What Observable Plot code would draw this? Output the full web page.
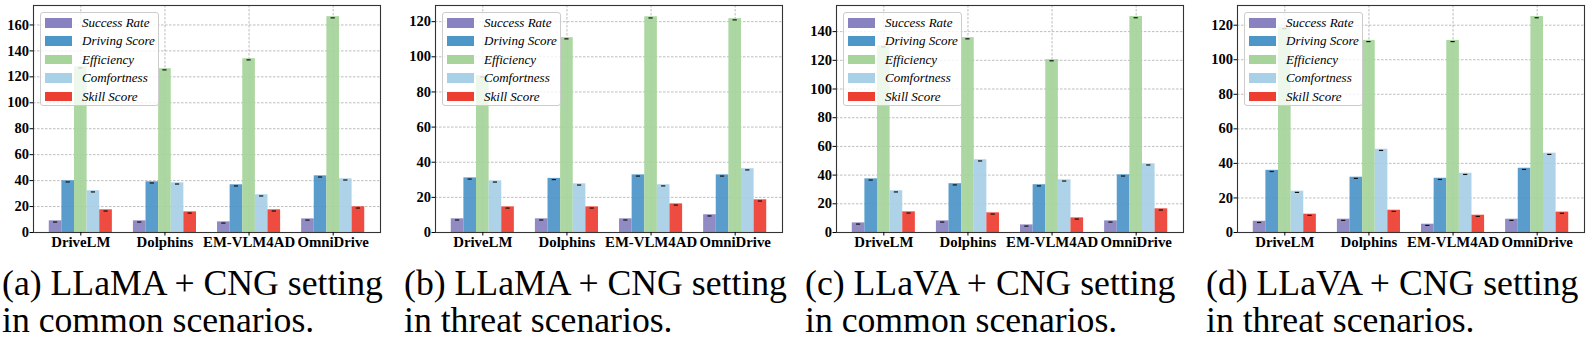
<!DOCTYPE html>
<html><head><meta charset="utf-8">
<script src="https://cdn.jsdelivr.net/npm/d3@7"></script>
<script src="https://cdn.jsdelivr.net/npm/@observablehq/plot@0.6"></script>
<style>
body{margin:0;background:#fff;width:1590px;height:352px;overflow:hidden;position:relative;font-family:"Liberation Serif","Times New Roman",serif;}
.panel{position:absolute;top:0;}
.legend{position:absolute;top:12px;width:119px;height:94px;background:rgba(255,255,255,0.8);border:1px solid #cccccc;border-radius:3px;box-sizing:border-box;}
.legend .row{position:absolute;left:0;height:18px;}
.legend .sw{position:absolute;left:4px;width:27px;height:9.5px;}
.legend .lb{position:absolute;left:41px;font-style:italic;font-size:13px;white-space:nowrap;color:#000;line-height:13px;}
.caption{position:absolute;top:265px;font-size:35.7px;line-height:37px;white-space:nowrap;color:#000;}
</style></head><body>
<script>
const categories = ["DriveLM", "Dolphins", "EM-VLM4AD", "OmniDrive"];
const seriesNames = ["Success Rate", "Driving Score", "Efficiency", "Comfortness", "Skill Score"];
const seriesColors = ["#8982c0", "#4d96c8", "#a6d49b", "#a8d0e6", "#ed3e32"];

// rows = series (Success Rate, Driving Score, Efficiency, Comfortness, Skill Score), columns = categories
const valuesA = [[9.0, 9.0, 8.2, 10.5], [39.9, 39.1, 36.8, 43.7], [127.8, 126.3, 134.0, 166.4], [32.2, 38.3, 29.1, 41.4], [17.5, 15.9, 17.5, 19.8]];
const valuesB = [[7.8, 7.8, 7.8, 10.1], [31.1, 30.8, 32.8, 32.8], [89.2, 110.9, 122.8, 121.7], [29.4, 27.7, 27.2, 36.3], [14.6, 14.6, 16.3, 18.6]];
const valuesC = [[6.7, 8.1, 5.3, 8.1], [37.4, 34.0, 33.3, 40.2], [130.2, 135.8, 120.5, 150.5], [29.1, 50.7, 36.7, 47.9], [14.4, 13.7, 10.2, 16.5]];
const valuesD = [[6.5, 7.7, 4.8, 7.7], [36.0, 32.0, 31.4, 37.2], [118.7, 111.2, 111.2, 125.0], [23.9, 48.2, 34.3, 45.9], [10.6, 12.9, 10.0, 11.8]];

const yTicksA = [0, 20, 40, 60, 80, 100, 120, 140, 160];
const yTicksB = [0, 20, 40, 60, 80, 100, 120];
const yTicksC = [0, 20, 40, 60, 80, 100, 120, 140];
const yTicksD = [0, 20, 40, 60, 80, 100, 120];
const yMaxes = [175, 129.2, 158.2, 131.4];

const captionsLine1 = ["(a) LLaMA + CNG setting", "(b) LLaMA + CNG setting", "(c) LLaVA + CNG setting", "(d) LLaVA + CNG setting"];
const captionsLine2 = ["in common scenarios.", "in threat scenarios.", "in common scenarios.", "in threat scenarios."];

const allValues = [valuesA, valuesB, valuesC, valuesD];
const allTicks = [yTicksA, yTicksB, yTicksC, yTicksD];

const barStep = 0.15;
const panelLefts = [0, 402, 803, 1204];
const catIdx = categories.map((_, i) => i);

function makePanel(values, yMax, yTicks) {
  const data = [];
  values.forEach((row, s) => row.forEach((v, c) => data.push({
    cat: c, series: seriesNames[s], value: v, pos: c + (s - 2) * barStep
  })));
  return Plot.plot({
    width: 385, height: 252,
    marginLeft: 33, marginRight: 5, marginTop: 5, marginBottom: 20,
    style: {fontFamily: "'Liberation Serif', 'Times New Roman', serif", color: "#000", background: "transparent", overflow: "visible"},
    x: {domain: [-0.5625, 3.5625], axis: null},
    y: {domain: [0, yMax], axis: null},
    color: {domain: seriesNames, range: seriesColors},
    marks: [
      Plot.gridY(yTicks, {stroke: "#b5b5b5", strokeOpacity: 1, strokeDasharray: "2.5,1.5", strokeWidth: 0.9}),
      Plot.gridX(catIdx, {stroke: "#b5b5b5", strokeOpacity: 1, strokeDasharray: "2.5,1.5", strokeWidth: 0.9}),
      Plot.rect(data, {
        x1: d => d.pos - barStep / 2, x2: d => d.pos + barStep / 2,
        y1: 0, y2: "value", fill: "series", fillOpacity: 0.93
      }),
      Plot.ruleY(data, {x1: d => d.pos - 0.025, x2: d => d.pos + 0.025, y: "value", stroke: "#111", strokeWidth: 1.2, dy: 1.2}),
      Plot.frame({stroke: "#333", strokeWidth: 1.1}),
      Plot.axisX(catIdx, {tickFormat: i => categories[i], tickSize: 3.5, tickPadding: 0, fontSize: 14.8, fontWeight: "bold", stroke: "#000", label: null}),
      Plot.axisY(yTicks, {tickSize: 3.5, tickPadding: 1, fontSize: 14.5, fontWeight: "bold", stroke: "#000", label: null})
    ]
  });
}

allValues.forEach((vals, p) => {
  const wrap = document.createElement("div");
  wrap.className = "panel";
  wrap.style.left = panelLefts[p] + "px";
  wrap.appendChild(makePanel(vals, yMaxes[p], allTicks[p]));
  document.body.appendChild(wrap);

  const leg = document.createElement("div");
  leg.className = "legend";
  leg.style.left = (panelLefts[p] + 40) + "px";
  seriesNames.forEach((name, i) => {
    const row = document.createElement("div");
    row.className = "row";
    row.style.top = (1 + i * 18.4) + "px";
    row.style.width = "100%";
    const sw = document.createElement("div");
    sw.className = "sw";
    sw.style.top = "4px";
    sw.style.background = seriesColors[i];
    const lb = document.createElement("div");
    lb.className = "lb";
    lb.style.top = "2px";
    lb.textContent = name;
    row.appendChild(sw); row.appendChild(lb);
    leg.appendChild(row);
  });
  document.body.appendChild(leg);

  const cap = document.createElement("div");
  cap.className = "caption";
  cap.style.left = (panelLefts[p] + 2) + "px";
  const l1 = document.createElement("div"); l1.textContent = captionsLine1[p];
  const l2 = document.createElement("div"); l2.textContent = captionsLine2[p];
  cap.appendChild(l1); cap.appendChild(l2);
  document.body.appendChild(cap);
});
</script>
</body></html>
